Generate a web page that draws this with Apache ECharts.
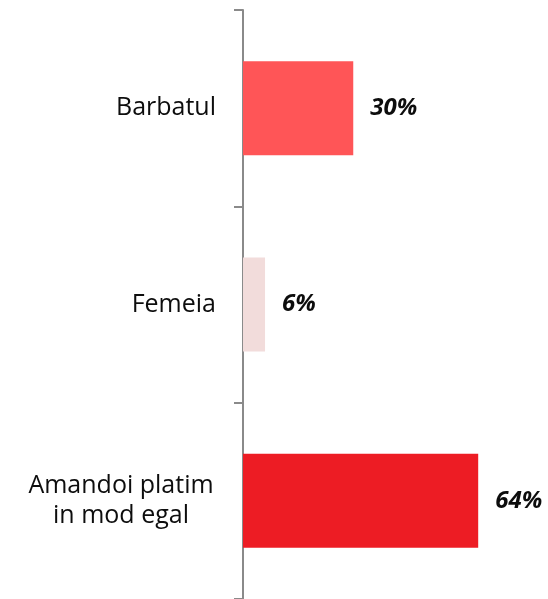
<!DOCTYPE html>
<html>
<head>
<meta charset="utf-8">
<script src="https://cdn.jsdelivr.net/npm/echarts@6/dist/echarts.min.js"></script>
<style>
html,body{margin:0;padding:0;background:#fff;}
#chart{width:548px;height:599px;}
</style>
</head>
<body>
<div id="chart"></div>
<script>
var categories = ["Barbatul", "Femeia", "Amandoi platim\nin mod egal"];
var values = [30, 6, 64];
var barColors = ["#FF5557", "#F2DCDB", "#ED1C24"];

var chart = echarts.init(document.getElementById('chart'), null, {renderer: 'canvas'});
chart.setOption({
  animation: false,
  backgroundColor: '#ffffff',
  grid: {left: 243, top: 10, width: 294, height: 594, containLabel: false},
  xAxis: {type: 'value', min: 0, max: 80, show: false},
  yAxis: {
    type: 'category',
    inverse: true,
    data: categories,
    axisLine: {show: true, lineStyle: {color: '#8a8a8a', width: 2}},
    axisTick: {show: true, length: 9, lineStyle: {color: '#8a8a8a', width: 2}},
    axisLabel: {
      margin: 27,
      fontFamily: 'Open Sans',
      fontSize: 25,
      lineHeight: 30,
      color: '#0d0d0d',
      align: 'right',
      formatter: function (v) {
        var lines = v.split('\n');
        if (lines.length < 2) return v;
        return lines.map(function (l) { return '{c|' + l + '}'; }).join('\n');
      },
      rich: {
        c: {width: 190, align: 'center', fontFamily: 'Open Sans', fontSize: 25, lineHeight: 30, color: '#0d0d0d'}
      }
    },
    splitLine: {show: false}
  },
  series: [{
    type: 'bar',
    barWidth: 94,
    data: values.map(function (v, i) {
      return {value: v, itemStyle: {color: barColors[i]}};
    }),
    label: {
      show: true,
      position: 'right',
      distance: 17,
      formatter: '{c}%',
      fontFamily: 'Open Sans',
      fontStyle: 'italic',
      fontWeight: 'bold',
      fontSize: 24,
      color: '#0d0d0d'
    }
  }]
});
</script>
</body>
</html>
